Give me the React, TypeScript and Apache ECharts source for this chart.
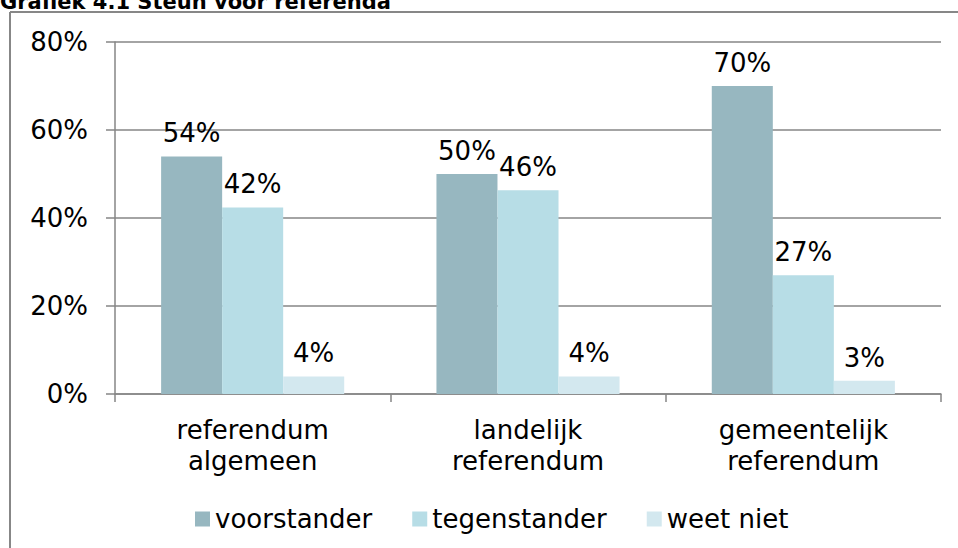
import React, { useEffect, useRef } from "react";
import * as echarts from "echarts";

const categories = ["referendum\nalgemeen", "landelijk\nreferendum", "gemeentelijk\nreferendum"];
const seriesNames = ["voorstander", "tegenstander", "weet niet"];
const voorstander = [54, 50, 70];
const tegenstander = [42.4, 46.3, 27];
const weetNiet = [4, 4, 3];
const yTicks = [0, 20, 40, 60, 80];
const colors = ["#97B7C0", "#B7DDE6", "#D3E8EF"];

const FONT = "DejaVu Sans";

export default function App() {
  const ref = useRef<HTMLDivElement>(null);
  useEffect(() => {
    document.body.style.margin = "0";
    const chart = echarts.init(ref.current!, null, { renderer: "svg" });
    const data = [voorstander, tegenstander, weetNiet];
    chart.setOption({
      animation: false,
      textStyle: { fontFamily: FONT },
      grid: { left: 115, right: 17, top: 42, bottom: 154, containLabel: false },
      graphic: [
        {
          type: "text",
          left: 0,
          top: -9,
          style: {
            text: "Grafiek 4.1 Steun voor referenda",
            font: `bold 21px '${FONT}'`,
            fill: "#000",
          },
        },
        {
          type: "line",
          shape: { x1: 10, y1: 12, x2: 958, y2: 12 },
          style: { stroke: "#878787", lineWidth: 2 },
        },
        {
          type: "line",
          shape: { x1: 10, y1: 12, x2: 10, y2: 548 },
          style: { stroke: "#878787", lineWidth: 2 },
        },
      ],
      legend: {
        left: 190,
        top: 501,
        icon: "rect",
        itemWidth: 15,
        itemHeight: 15,
        itemGap: 40,
        textStyle: { fontSize: 26, color: "#000", fontFamily: FONT },
        data: seriesNames,
      },
      xAxis: {
        type: "category",
        data: categories,
        axisLine: { lineStyle: { color: "#868686", width: 1.5 } },
        axisTick: { show: true, length: 8, lineStyle: { color: "#868686", width: 1.5 } },
        axisLabel: { fontSize: 26, color: "#000", lineHeight: 31, margin: 20, fontFamily: FONT },
      },
      yAxis: {
        type: "value",
        min: yTicks[0],
        max: yTicks[yTicks.length - 1],
        interval: 20,
        axisLine: { show: true, lineStyle: { color: "#868686", width: 1.5 } },
        axisTick: { show: true, length: 9, lineStyle: { color: "#868686", width: 1.5 } },
        splitLine: { show: true, lineStyle: { color: "#868686", width: 1.5 } },
        axisLabel: {
          fontSize: 26,
          color: "#000",
          margin: 27,
          fontFamily: FONT,
          formatter: (v: number) => `${v}%`,
        },
      },
      series: seriesNames.map((name, i) => ({
        name,
        type: "bar",
        data: data[i],
        barGap: "0%",
        barCategoryGap: "33.5%",
        itemStyle: { color: colors[i] },
        label: {
          show: true,
          position: "top",
          distance: 10,
          fontSize: 26,
          color: "#000",
          fontFamily: FONT,
          formatter: (p: any) => `${Math.round(p.value)}%`,
        },
      })),
    });
    return () => chart.dispose();
  }, []);
  return <div ref={ref} style={{ width: 958, height: 548 }} />;
}
